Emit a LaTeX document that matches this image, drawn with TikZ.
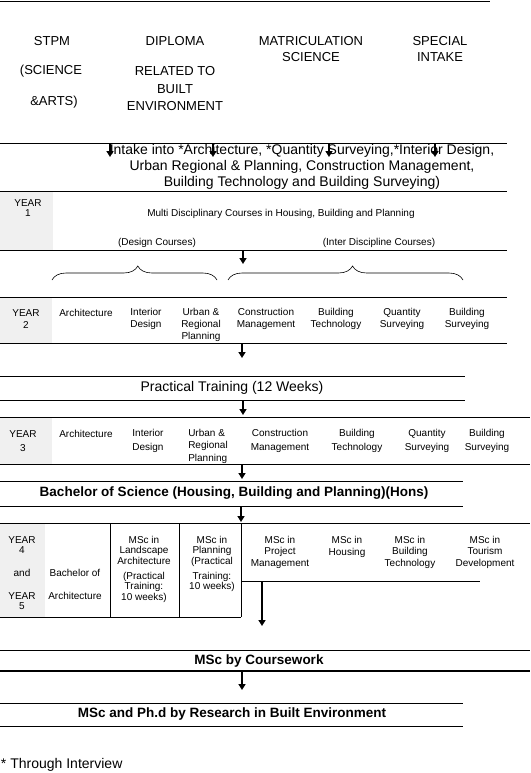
\documentclass[tikz,border=0pt]{standalone}
\usepackage{fontspec}
\setmainfont{Liberation Sans}
\usetikzlibrary{arrows.meta,decorations.pathreplacing}
\begin{document}
\begin{tikzpicture}[x=1pt,y=-1pt,
  every node/.style={inner sep=0pt, outer sep=0pt},
  rule/.style={line width=0.8pt},
  arr/.style={line width=1.8pt, -{Triangle[length=6pt,width=7pt]}},
  big/.style={font=\fontsize{13}{16}\selectfont, align=center},
  intk/.style={font=\fontsize{14}{16}\selectfont, align=center},
  small/.style={font=\fontsize{10}{12}\selectfont, align=center},
  smallt/.style={font=\fontsize{10}{10.5}\selectfont, align=center},
  boldt/.style={font=\bfseries\fontsize{13.5}{16}\selectfont},
  yearbox/.style={fill=gray!12, draw=none},
  brc/.style={decorate, line width=0.6pt, decoration={brace, amplitude=14pt}}]

\useasboundingbox (0,0) rectangle (530,773);

% grey year boxes
\fill[yearbox] (0,191) rectangle (53,250);
\fill[yearbox] (0,297) rectangle (52,343);
\fill[yearbox] (0,417) rectangle (52,464);
\fill[yearbox] (0,523) rectangle (45,617);

% horizontal rules
\draw[rule] (0,1) -- (490,1);
\draw[rule] (0,143) -- (507,143);
\draw[rule] (0,191) -- (507,191);
\draw[rule] (0,250) -- (507,250);
\draw[rule] (0,297) -- (507,297);
\draw[rule] (0,343) -- (507,343);
\draw[rule] (0,376) -- (465,376);
\draw[rule] (0,400) -- (465,400);
\draw[rule] (0,417) -- (530,417);
\draw[rule] (0,464) -- (530,464);
\draw[rule] (0,481) -- (463,481);
\draw[rule] (0,506) -- (463,506);
\draw[rule] (0,523) -- (530,523);
\draw[rule] (0,617) -- (241,617);
\draw[rule] (110,523) -- (110,617);
\draw[rule] (179,523) -- (179,617);
\draw[rule] (241,523) -- (241,617);
\draw[rule] (241,581) -- (480,581);
\draw[rule] (0,650) -- (530,650);
\draw[line width=2.4pt] (0,671) -- (530,671);
\draw[rule] (0,703) -- (463,703);
\draw[rule] (0,726) -- (463,726);

% braces
\draw[brc, decoration={aspect=0.52}] (52,280) -- (217,280);
\draw[brc, decoration={aspect=0.53}] (228,280) -- (463,280);

% entry qualifications
\node[big] (stpm) at (52,41) {STPM};
\node[big] (stpmsci) at (51,71) {(SCIENCE};
\node[big] (stpmarts) at (54,102) {\&ARTS)};
\node[big] (dip) at (175,41) {DIPLOMA};
\node[font=\fontsize{13}{17.5}\selectfont, align=center] (diprel) at (175,89) {RELATED TO\\BUILT\\ENVIRONMENT};
\node[big] (mat) at (311,49) {MATRICULATION\\SCIENCE};
\node[big] (spec) at (440,49) {SPECIAL\\INTAKE};

\node[intk] (intake) at (302,167) {Intake into *Architecture, *Quantity Surveying,*Interior Design,\\Urban Regional \& Planning, Construction Management,\\Building Technology and Building Surveying)};

% year 1
\node[font=\fontsize{10}{10}\selectfont, align=center] (y1) at (28,208) {YEAR\\1};
\node[small] (multi) at (281,214) {Multi Disciplinary Courses in Housing, Building and Planning};
\node[small] (design) at (157,243) {(Design Courses)};
\node[small] (inter) at (379,243) {(Inter Discipline Courses)};

% year 2
\node[small] (y2) at (26,319) {YEAR\\2};
\node[small] (r2arch) at (86,313) {Architecture};
\node[small] (r2int) at (146,319) {Interior\\Design};
\node[small] (r2urb) at (201,325) {Urban \&\\Regional\\Planning};
\node[small] (r2con) at (266,319) {Construction\\Management};
\node[small] (r2bt) at (336,319) {Building\\Technology};
\node[small] (r2qs) at (402,319) {Quantity\\Surveying};
\node[small] (r2bs) at (467,319) {Building\\Surveying};

% practical training
\node[font=\fontsize{14}{16}\selectfont] (prac) at (232,388) {Practical Training (12 Weeks)};

% year 3
\node[font=\fontsize{10}{14}\selectfont, align=center] (y3) at (23,441) {YEAR\\3};
\node[small] (r3arch) at (86,434) {Architecture};
\node[font=\fontsize{10}{14}\selectfont, align=left] (r3int) at (148,441) {Interior\\Design};
\node[font=\fontsize{10}{12.5}\selectfont, align=left] (r3urb) at (208,446) {Urban \&\\Regional\\Planning};
\node[font=\fontsize{10}{14}\selectfont, align=center] (r3con) at (280,441) {Construction\\Management};
\node[font=\fontsize{10}{14}\selectfont, align=center] (r3bt) at (357,441) {Building\\Technology};
\node[font=\fontsize{10}{14}\selectfont, align=center] (r3qs) at (427,441) {Quantity\\Surveying};
\node[font=\fontsize{10}{14}\selectfont, align=center] (r3bs) at (487,441) {Building\\Surveying};

% bachelor
\node[boldt] (bsc) at (234,493) {Bachelor of Science (Housing, Building and Planning)(Hons)};

% year 4 and 5
\node[font=\fontsize{10}{10}\selectfont, align=center] (y45) at (22,573) {YEAR\\4\\[13pt]and\\[13pt]YEAR\\5};
\node[font=\fontsize{10}{12}\selectfont, align=center] (barch) at (75,584) {Bachelor of\\[11pt]Architecture};
\node[smallt] (land) at (144,569) {MSc in\\Landscape\\Architecture\\[4.5pt](Practical\\Training:\\10 weeks)};
\node[smallt] (plan) at (212,564) {MSc in\\Planning\\(Practical\\[4.5pt]Training:\\10 weeks)};
\node[font=\fontsize{10}{11.5}\selectfont, align=center] (mpm) at (280,552) {MSc in\\Project\\Management};
\node[font=\fontsize{10}{11.5}\selectfont, align=center] (mh) at (347,547) {MSc in\\Housing};
\node[font=\fontsize{10}{11.5}\selectfont, align=center] (mbt) at (410,552) {MSc in\\Building\\Technology};
\node[font=\fontsize{10}{11.5}\selectfont, align=center] (mtd) at (485,552) {MSc in\\Tourism\\Development};

% postgraduate
\node[boldt] (course) at (259,661) {MSc by Coursework};
\node[boldt] (research) at (232,714) {MSc and Ph.d by Research in Built Environment};
\node[font=\fontsize{14}{16}\selectfont, anchor=west] (note) at (1,765) {* Through Interview};

% arrow end points
\coordinate (a1s) at (110,143); \coordinate (a1e) at (110,157);
\coordinate (a2s) at (213,143); \coordinate (a2e) at (213,157);
\coordinate (a3s) at (329,143); \coordinate (a3e) at (329,157);
\coordinate (a4s) at (435,143); \coordinate (a4e) at (435,157);
\coordinate (b1s) at (243,250); \coordinate (b1e) at (243,264);
\coordinate (b2s) at (242,343); \coordinate (b2e) at (242,358);
\coordinate (b3s) at (243,400); \coordinate (b3e) at (243,415);
\coordinate (b4s) at (242,464); \coordinate (b4e) at (242,479);
\coordinate (b5s) at (241,506); \coordinate (b5e) at (241,522);
\coordinate (b6s) at (262,581); \coordinate (b6e) at (262,626);
\coordinate (b7s) at (242,671); \coordinate (b7e) at (242,690);

\draw[arr] (a1s) -- (a1e);
\draw[arr] (a2s) -- (a2e);
\draw[arr] (a3s) -- (a3e);
\draw[arr] (a4s) -- (a4e);
\draw[arr] (b1s) -- (b1e);
\draw[arr] (b2s) -- (b2e);
\draw[arr] (b3s) -- (b3e);
\draw[arr] (b4s) -- (b4e);
\draw[arr] (b5s) -- (b5e);
\draw[arr] (b6s) -- (b6e);
\draw[arr] (b7s) -- (b7e);
\end{tikzpicture}
\end{document}
